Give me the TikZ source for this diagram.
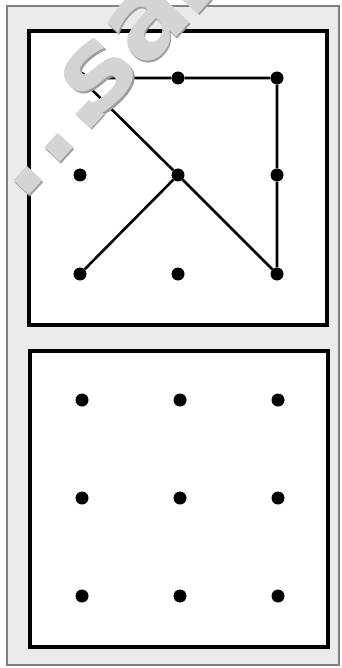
\documentclass[tikz,border=0pt]{standalone}
\usepackage{fontspec}
\newfontfamily\wmfont{DejaVu Sans}
\begin{document}
\begin{tikzpicture}[x=1pt,y=-1pt,
  pin/.style={circle,fill=black,inner sep=0pt,minimum size=13pt},
  band/.style={line width=2.6pt,black},
  frame/.style={line width=4pt,black,fill=white},
  outer/.style={line width=2.5pt,draw=black!50,fill=black!8},
  wm/.style={font=\wmfont\bfseries\fontsize{112}{112}\selectfont,inner sep=0pt,rotate=47,anchor=base west}
]
\useasboundingbox (0,0) rectangle (342,668);
\fill[white] (0,0) rectangle (342,668);
\draw[outer] (7,6) rectangle (339,665);
\draw[frame] (29,31) rectangle (327,325);
\draw[frame] (30,351) rectangle (328,647);
% top geoboard
\foreach \c/\x in {1/80,2/178,3/277}{
  \foreach \r/\y in {1/78,2/175,3/274}{
    \node[pin] (t\r\c) at (\x,\y) {};
  }
}
\draw[band] (t11) -- (t12) -- (t13) -- (t23) -- (t33) -- (t22) -- (t11);
\draw[band] (t22) -- (t31);
% bottom geoboard
\foreach \c/\x in {1/82,2/180,3/278}{
  \foreach \r/\y in {1/400,2/498,3/596}{
    \node[pin] (b\r\c) at (\x,\y) {};
  }
}
% watermark
\begin{scope}
\clip (0,0) rectangle (342,668);
\node[wm,text=black!38] (wmshadow) at (22.5,205.5) {.\kern3pt.\kern3pt.\kern-20pt sa\kern-6pt l};
\node[wm,text=black!17] (wmtext) at (21,204) {.\kern3pt.\kern3pt.\kern-20pt sa\kern-6pt l};
\end{scope}
\end{tikzpicture}
\end{document}
